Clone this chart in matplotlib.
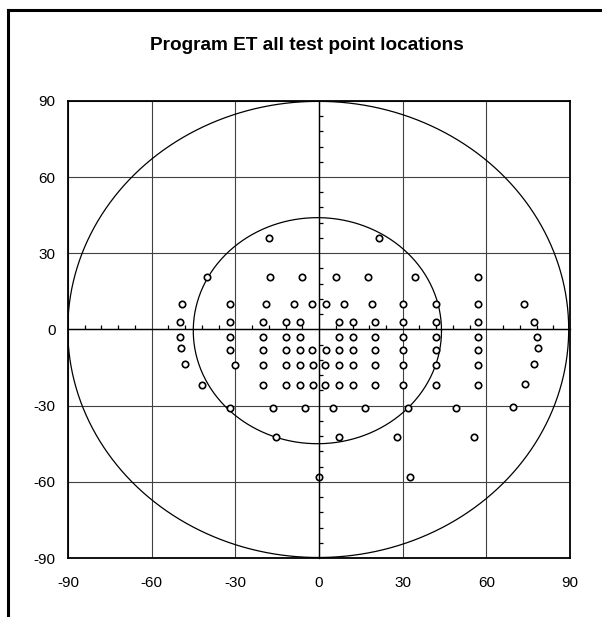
import matplotlib
matplotlib.use("Agg")
import matplotlib.pyplot as plt
from matplotlib.lines import Line2D
from matplotlib.ticker import MultipleLocator
import numpy as np

plt.rcParams["font.family"] = ["Liberation Sans", "DejaVu Sans"]
plt.rcParams["axes.unicode_minus"] = False

title = "Program ET all test point locations"

# test point locations (degrees)
x_pts = [
    -49, -50, -50, -49.5, -48,
    -40, -42,
    -32, -32, -32, -32, -30, -32,
    -19, -20, -20, -20, -20, -20, -17.5, -18, -16.5, -15.5,
    -12, -12, -12, -12, -12, -9,
    -7, -7, -7, -7, -7, -6, -5,
    -2.5, -2.5, -2, -2,
    2.5, 2.5, 2, 2,
    0,
    7, 7, 7, 7, 7, 6, 5, 7,
    9,
    12, 12, 12, 12, 12,
    17.5, 16.5,
    19, 20, 20, 20, 20, 20,
    21.5,
    30, 30, 30, 30, 30, 30, 32, 28, 32.5,
    34.5,
    42, 42, 42, 42, 42, 42,
    49,
    57, 57, 57, 57, 57, 57, 57,
    55.5,
    73.5, 77, 78, 78.5, 77, 74, 69.5,
]
y_pts = [
    10, 3, -3, -7.5, -13.5,
    20.5, -22,
    10, 3, -3, -8, -14, -31,
    10, 3, -3, -8, -14, -22, 20.5, 36, -31, -42.5,
    3, -3, -8, -14, -22, 10,
    3, -3, -8, -14, -22, 20.5, -31,
    10, -8, -14, -22,
    10, -8, -14, -22,
    -58,
    3, -3, -8, -14, -22, 20.5, -31, -42.5,
    10,
    3, -3, -8, -14, -22,
    20.5, -31,
    10, 3, -3, -8, -14, -22,
    36,
    10, 3, -3, -8, -14, -22, -31, -42.5, -58,
    20.5,
    10, 3, -3, -8, -14, -22,
    -31,
    20.5, 10, 3, -3, -8, -14, -22,
    -42.5,
    10, 3, -3, -7.5, -13.5, -21.5, -30.5,
]

# reference circles: (centre x, centre y, radius)
circles = [(-0.3, 0.0, 89.8), (-0.6, -0.5, 44.5)]

ticks = [-90, -60, -30, 0, 30, 60, 90]

fig = plt.figure(figsize=(6.02, 6.17), dpi=100)
rect = [0.113, 0.0956, 0.834, 0.741]
ax = fig.add_axes(rect)

ax.set_xlim(-90, 90)
ax.set_ylim(-90, 90)
ax.set_xticks(ticks)
ax.set_yticks(ticks)
ax.tick_params(length=0, labelsize=11)
ax.tick_params(axis="y", pad=9)
ax.tick_params(axis="x", pad=13)
ax.grid(True, color="#404040", linewidth=0.8)
ax.set_axisbelow(True)
for s in ax.spines.values():
    s.set_linewidth(1.3)
    s.set_color("black")

t = np.linspace(0, 2 * np.pi, 400)
for cx, cy, r in circles:
    ax.plot(cx + r * np.cos(t), cy + r * np.sin(t), color="black", lw=0.9)

ax.plot(x_pts, y_pts, linestyle="none", marker="o", markersize=4.6,
        markerfacecolor="white", markeredgecolor="black", markeredgewidth=1.2)

# axes through the origin with small ticks, like the spreadsheet chart
ax2 = fig.add_axes(rect, facecolor="none")
ax2.set_xlim(-90, 90)
ax2.set_ylim(-90, 90)
ax2.spines["left"].set_position(("data", 0))
ax2.spines["bottom"].set_position(("data", 0))
ax2.spines["top"].set_visible(False)
ax2.spines["right"].set_visible(False)
for s in ["left", "bottom"]:
    ax2.spines[s].set_linewidth(1.0)
ax2.xaxis.set_major_locator(MultipleLocator(30))
ax2.yaxis.set_major_locator(MultipleLocator(30))
ax2.xaxis.set_minor_locator(MultipleLocator(6))
ax2.yaxis.set_minor_locator(MultipleLocator(6))
ax2.tick_params(which="both", direction="in", labelleft=False, labelbottom=False)
ax2.tick_params(which="major", length=0)
ax2.tick_params(which="minor", length=3, width=0.9)

fig.text(0.51, 1 - 46 / 617, title, ha="center", va="center",
         fontsize=13.7, fontweight="bold")

# chart area frame (left and top edges visible)
fig.add_artist(Line2D([0.0133, 0.0133], [0.0, 0.984], color="black", lw=2.2,
                      transform=fig.transFigure))
fig.add_artist(Line2D([0.0133, 1.0], [0.984, 0.984], color="black", lw=2.2,
                      transform=fig.transFigure))

fig.savefig("out.png", dpi=100)
